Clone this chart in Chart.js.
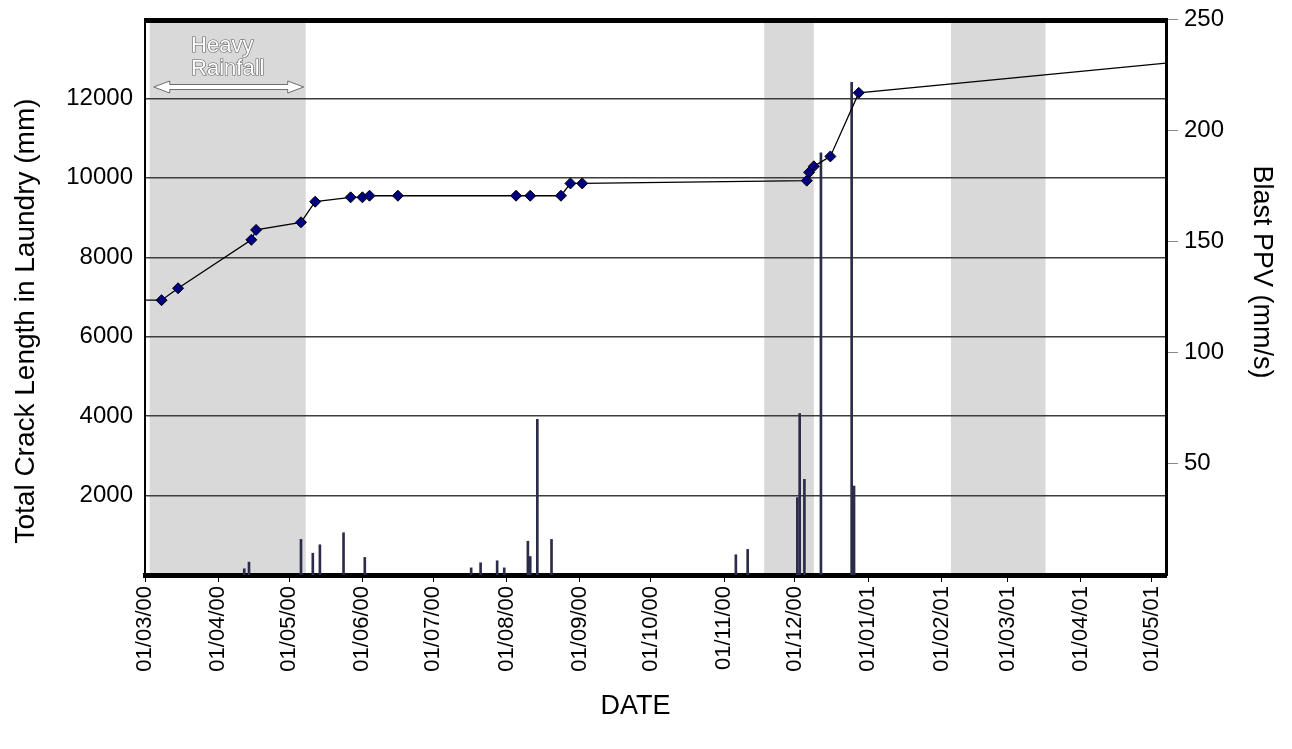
<!DOCTYPE html>
<html>
<head>
<meta charset="utf-8">
<title>Laundry crack length and blast PPV</title>
<script src="https://cdn.jsdelivr.net/npm/chart.js@4/dist/chart.umd.min.js"></script>
<style>
  html, body { margin: 0; padding: 0; background: #fff; }
</style>
</head>
<body>
<canvas id="crackChart" width="1292" height="749"></canvas>
<script>
// crack survey: reading date and total crack length (mm)
const crackDates = [
  '2000-03-01', '2000-03-08', '2000-03-15', '2000-04-15', '2000-04-17', '2000-05-06',
  '2000-05-12', '2000-05-27', '2000-06-01', '2000-06-04', '2000-06-16', '2000-08-05',
  '2000-08-11', '2000-08-24', '2000-08-28', '2000-09-02', '2000-12-06', '2000-12-07',
  '2000-12-09', '2000-12-16', '2000-12-28', '2001-05-07'
];
const crackLength = [
  6920, 6920, 7220, 8440, 8690, 8880,
  9400, 9510, 9510, 9550, 9550, 9550,
  9550, 9550, 9860, 9860, 9930, 10140,
  10290, 10540, 12140, 12890
];

// blast monitoring: blast date and peak particle velocity (mm/s)
const blastDates = [
  '2000-04-12', '2000-04-14', '2000-05-06', '2000-05-11', '2000-05-14', '2000-05-24',
  '2000-06-02', '2000-07-17', '2000-07-21', '2000-07-28', '2000-07-31', '2000-08-10',
  '2000-08-11', '2000-08-14', '2000-08-20', '2000-11-06', '2000-11-11', '2000-12-02',
  '2000-12-03', '2000-12-05', '2000-12-12', '2000-12-25', '2000-12-26'
];
const blastPPV = [
  2.8, 5.8, 16, 9.8, 13.6, 19,
  7.9, 3.2, 5.5, 6.4, 3.2, 15.2,
  8.3, 70, 16, 9.1, 11.5, 34.8,
  72.6, 43, 189.8, 221.5, 40
];

// shaded periods (first one is the heavy rainfall)
const rainStart = ['2000-03-03', '2000-11-18', '2001-02-05'];
const rainEnd = ['2000-05-08', '2000-12-09', '2001-03-17'];

// axis ticks
const monthTicks = [
  '2000-03-01', '2000-04-01', '2000-05-01', '2000-06-01', '2000-07-01', '2000-08-01',
  '2000-09-01', '2000-10-01', '2000-11-01', '2000-12-01', '2001-01-01', '2001-02-01',
  '2001-03-01', '2001-04-01', '2001-05-01'
];
const lengthTicks = [2000, 4000, 6000, 8000, 10000, 12000];
const ppvTicks = [50, 100, 150, 200, 250];

const DAY0 = Date.UTC(2000, 2, 1);
const MS_DAY = 86400000;

function day(s) {
  const [y, m, d] = s.split('-').map(Number);
  return (Date.UTC(y, m - 1, d) - DAY0) / MS_DAY;
}

function fmtDate(v) {
  const dt = new Date(DAY0 + v * MS_DAY);
  const p = n => String(n).padStart(2, '0');
  return p(dt.getUTCDate()) + '/' + p(dt.getUTCMonth() + 1) + '/' + p(dt.getUTCFullYear() % 100);
}

// keep the plot box fixed: no extra room for overhanging labels
function noPad(s) {
  s.paddingTop = 0;
  s.paddingBottom = 0;
  s.paddingLeft = 0;
  s.paddingRight = 0;
}

const FONT = "'Liberation Sans', Arial, sans-serif";

// grey bands behind the grid, with the rainfall arrow on the first one
const bandsPlugin = {
  id: 'bands',
  beforeDraw(chart) {
    const { ctx, chartArea: a, scales: { x } } = chart;
    ctx.save();
    ctx.fillStyle = '#d9d9d9';
    for (let i = 0; i < rainStart.length; i++) {
      const x1 = x.getPixelForValue(day(rainStart[i]));
      const x2 = x.getPixelForValue(day(rainEnd[i]));
      ctx.fillRect(x1, a.top, x2 - x1, a.bottom - a.top);
    }
    ctx.restore();
  },
  afterDatasetsDraw(chart) {
    const { ctx, chartArea: a, scales: { x } } = chart;
    const x1 = x.getPixelForValue(day(rainStart[0])) + 4;
    const x2 = x.getPixelForValue(day(rainEnd[0])) - 2;
    const cy = a.top + 68;
    const hl = 16, hh = 6, st = 2.5;
    ctx.save();
    ctx.beginPath();
    ctx.moveTo(x1, cy);
    ctx.lineTo(x1 + hl, cy - hh);
    ctx.lineTo(x1 + hl, cy - st);
    ctx.lineTo(x2 - hl, cy - st);
    ctx.lineTo(x2 - hl, cy - hh);
    ctx.lineTo(x2, cy);
    ctx.lineTo(x2 - hl, cy + hh);
    ctx.lineTo(x2 - hl, cy + st);
    ctx.lineTo(x1 + hl, cy + st);
    ctx.lineTo(x1 + hl, cy + hh);
    ctx.closePath();
    ctx.fillStyle = '#fff';
    ctx.fill();
    ctx.strokeStyle = '#6e6e6e';
    ctx.lineWidth = 1;
    ctx.stroke();

    ctx.font = '22px ' + FONT;
    const tx = (x1 + x2) / 2 - ctx.measureText('Rainfall').width / 2 - 1;
    ctx.textAlign = 'left';
    ctx.textBaseline = 'alphabetic';
    ctx.fillStyle = '#fff';
    ctx.strokeStyle = '#5e5e5e';
    ctx.lineWidth = 1.2;
    [['Heavy', a.top + 33], ['Rainfall', a.top + 56]].forEach(([t, ty]) => {
      ctx.strokeText(t, tx, ty);
      ctx.fillText(t, tx, ty);
    });
    ctx.restore();
  }
};

// thick top border and the axis titles
const framePlugin = {
  id: 'frame',
  afterDraw(chart) {
    const { ctx, chartArea: a } = chart;
    ctx.save();
    ctx.fillStyle = '#000';
    ctx.fillRect(a.left - 1, a.top - 1, a.right - a.left + 2, 5);

    ctx.font = '28px ' + FONT;
    ctx.textAlign = 'center';
    ctx.textBaseline = 'middle';
    const cy = (a.top + a.bottom) / 2;

    ctx.save();
    ctx.translate(a.left - 119, cy + 24);
    ctx.rotate(-Math.PI / 2);
    ctx.fillText('Total Crack Length in Laundry (mm)', 0, 0);
    ctx.restore();

    ctx.font = '27px ' + FONT;
    ctx.save();
    ctx.translate(a.right + 95, cy - 25);
    ctx.rotate(Math.PI / 2);
    ctx.fillText('Blast PPV (mm/s)', 0, 0);
    ctx.restore();

    ctx.fillText('DATE', (a.left + a.right) / 2 - 20, a.bottom + 132);
    ctx.restore();
  }
};

const ctx = document.getElementById('crackChart').getContext('2d');
const crackChart = new Chart(ctx, {
  type: 'line',
  data: {
    datasets: [
      {
        label: 'Total crack length',
        data: crackDates.map((d, i) => ({ x: day(d), y: crackLength[i] })),
        yAxisID: 'y',
        borderColor: '#000',
        borderWidth: 1.3,
        tension: 0,
        pointStyle: 'rectRot',
        pointRadius: c => (c.dataIndex === 0 || c.dataIndex === crackDates.length - 1) ? 0 : 5.5,
        pointBackgroundColor: '#000080',
        pointBorderColor: '#000',
        pointBorderWidth: 1,
        order: 0
      },
      {
        type: 'bar',
        label: 'Blast PPV',
        data: blastDates.map((d, i) => ({ x: day(d), y: blastPPV[i] })),
        yAxisID: 'y1',
        backgroundColor: '#2c2c4a',
        borderWidth: 0,
        barThickness: 2,
        order: 1
      }
    ]
  },
  options: {
    responsive: false,
    animation: false,
    layout: { padding: { top: 19, left: 0, right: 0, bottom: 0 } },
    plugins: {
      legend: { display: false },
      tooltip: { enabled: false }
    },
    scales: {
      x: {
        type: 'linear',
        offset: false,
        min: 0,
        max: day('2001-05-07'),
        afterBuildTicks: s => { s.ticks = monthTicks.map(d => ({ value: day(d) })); },
        afterFit: s => { s.height = 174; noPad(s); },
        grid: { offset: false, drawOnChartArea: false, drawTicks: true, tickLength: 7, color: '#000', lineWidth: 1 },
        border: { display: true, color: '#000', width: 5 },
        ticks: {
          autoSkip: false,
          minRotation: 90,
          maxRotation: 90,
          padding: 4,
          color: '#000',
          font: { family: FONT, size: 22 },
          callback: v => fmtDate(v)
        }
      },
      y: {
        position: 'left',
        min: 0,
        max: 14000,
        afterBuildTicks: s => { s.ticks = lengthTicks.map(v => ({ value: v })); },
        afterFit: s => { s.width = 145; noPad(s); },
        grid: { color: '#3c3c3c', lineWidth: 1.4, drawTicks: false },
        border: { display: true, color: '#000', width: 2 },
        ticks: { padding: 12, color: '#000', font: { family: FONT, size: 24 }, callback: v => String(v) }
      },
      y1: {
        position: 'right',
        min: 0,
        max: 250,
        afterBuildTicks: s => { s.ticks = ppvTicks.map(v => ({ value: v })); },
        afterFit: s => { s.width = 126; noPad(s); },
        grid: { drawOnChartArea: false, drawTicks: true, tickLength: 12, color: '#8a8a8a', lineWidth: 1 },
        border: { display: true, color: '#000', width: 3 },
        ticks: { padding: 6, color: '#000', font: { family: FONT, size: 24 }, callback: v => String(v) }
      }
    }
  },
  plugins: [bandsPlugin, framePlugin]
});
</script>
</body>
</html>
